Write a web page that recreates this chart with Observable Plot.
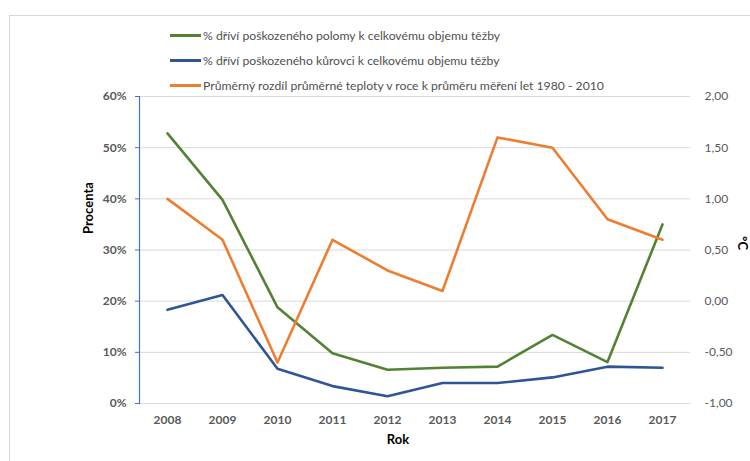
<!DOCTYPE html>
<html>
<head>
<meta charset="utf-8">
<script src="https://cdn.jsdelivr.net/npm/d3@7"></script>
<script src="https://cdn.jsdelivr.net/npm/@observablehq/plot@0.6"></script>
<style>
  body { margin: 0; background: #fff; font-family: Lato, "Liberation Sans", sans-serif; }
  #wrap { position: relative; width: 750px; height: 461px; overflow: hidden; }
  #border { position: absolute; left: 9px; top: 15px; width: 800px; height: 500px; border: 1px solid #d9d9d9; box-sizing: border-box; }
  #legend { position: absolute; left: 170px; top: 23px; font-size: 12.2px; color: #505050; }
  .row { height: 25px; display: flex; align-items: center; white-space: nowrap; }
  .sw { width: 31px; height: 3px; margin-right: 2px; }
  #chart { position: absolute; left: 0; top: 0; }
</style>
</head>
<body>
<div id="wrap">
  <div id="border"></div>
  <div id="chart"></div>
  <div id="legend"></div>
</div>
<script>
const years = ["2008","2009","2010","2011","2012","2013","2014","2015","2016","2017"];
const polomy = [52.8, 39.8, 18.8, 9.8, 6.6, 7.0, 7.2, 13.4, 8.1, 35.0];
const kurovec = [18.3, 21.2, 6.8, 3.4, 1.4, 4.0, 4.0, 5.1, 7.2, 7.0];
const teplota = [1.0, 0.6, -0.6, 0.6, 0.3, 0.1, 1.6, 1.5, 0.8, 0.6];
const pctTicks = [0, 10, 20, 30, 40, 50, 60];
const seriesNames = [
  "% dříví poškozeného polomy k celkovému objemu těžby",
  "% dříví poškozeného kůrovci k celkovému objemu těžby",
  "Průměrný rozdíl průměrné teploty v roce k průměru měření let 1980 - 2010"
];
const colors = ["#548235", "#2f5597", "#ed7d31"];

// map °C (-1..2) onto the percent axis (0..60)
const t2p = t => (t + 1) * 20;
const p2t = p => p / 20 - 1;
const fmtT = v => v.toFixed(2).replace(".", ",");

const rows = [];
years.forEach((y, i) => {
  rows.push({year: y, s: 0, v: polomy[i]});
  rows.push({year: y, s: 1, v: kurovec[i]});
  rows.push({year: y, s: 2, v: t2p(teplota[i])});
});

const plot = Plot.plot({
  width: 750,
  height: 461,
  marginTop: 96,
  marginBottom: 58,
  marginLeft: 139,
  marginRight: 60,
  style: {fontFamily: "Lato, 'Liberation Sans', sans-serif", fontSize: "12px", background: "transparent"},
  x: {type: "point", domain: years, padding: 0.5},
  y: {domain: [0, 60]},
  marks: [
    Plot.gridY(pctTicks, {stroke: "#d9d9d9", strokeOpacity: 1}),
    Plot.frame({anchor: "left", stroke: "#4472c4", strokeWidth: 1.2}),
    Plot.axisY(pctTicks, {anchor: "left", tickSize: 4, tickPadding: 9, stroke: "#4472c4", fill: "#595959", fontWeight: "bold", tickFormat: d => d + "%", label: null}),
    Plot.axisY(pctTicks, {anchor: "right", tickSize: 0, tickPadding: 14, fill: "#595959", textAnchor: "start", tickFormat: d => fmtT(p2t(d)), label: null}),
    Plot.axisX({anchor: "bottom", tickSize: 0, tickPadding: 12, fill: "#595959", fontWeight: "bold", label: null}),
    Plot.text(["Rok"], {frameAnchor: "bottom", dy: 40, dx: -17, fontWeight: "bold", fill: "#000", fontSize: 13}),
    Plot.text(["Procenta"], {frameAnchor: "left", rotate: -90, dx: -51, dy: -16, fontWeight: "bold", fill: "#000", fontSize: 13}),
    Plot.text(["°C"], {frameAnchor: "right", rotate: 90, dx: 52, dy: 0, fontWeight: "bold", fill: "#000", fontSize: 13}),
    Plot.line(rows, {x: "year", y: "v", z: "s", stroke: d => colors[d.s], strokeWidth: 2.6, strokeLinejoin: "round"})
  ]
});
document.getElementById("chart").appendChild(plot);

const legend = d3.select("#legend");
seriesNames.forEach((n, i) => {
  const r = legend.append("div").attr("class", "row");
  r.append("div").attr("class", "sw").style("background", colors[i]);
  r.append("span").text(n);
});
</script>
</body>
</html>
